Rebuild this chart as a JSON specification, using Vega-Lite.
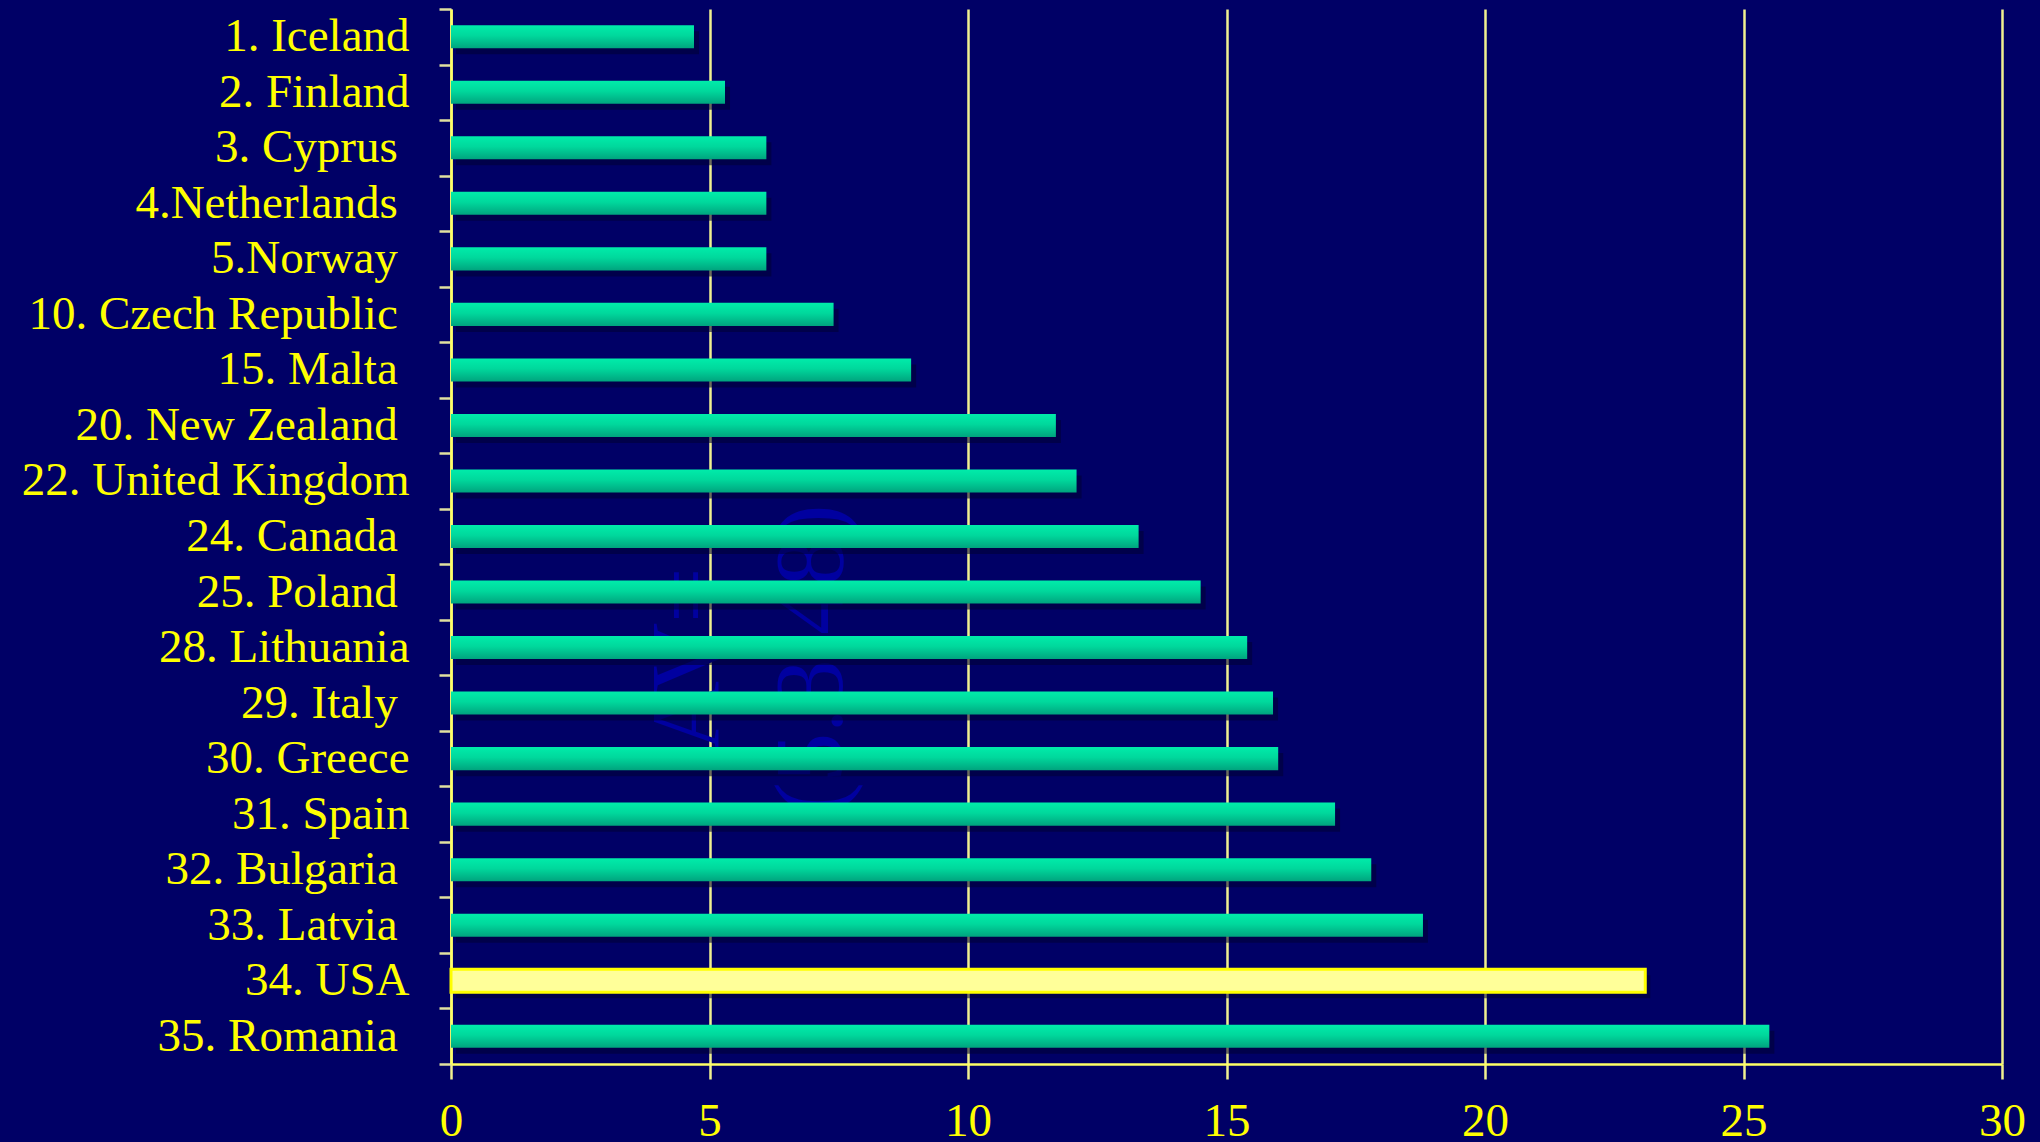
{
  "$schema": "https://vega.github.io/schema/vega-lite/v6.json",
  "width": 1551,
  "height": 1055,
  "autosize": "none",
  "padding": {"left": 451, "top": 9, "right": 38, "bottom": 78},
  "background": "#000066",
  "config": {
    "view": {"stroke": null},
    "font": "Liberation Serif"
  },
  "datasets": {
    "rates": [
      {"country": "1. Iceland", "rate": 4.7},
      {"country": "2. Finland", "rate": 5.3},
      {"country": "3. Cyprus\u00a0\u200b", "rate": 6.1},
      {"country": "4.Netherlands\u00a0\u200b", "rate": 6.1},
      {"country": "5.Norway\u00a0\u200b", "rate": 6.1},
      {"country": "10. Czech Republic\u00a0\u200b", "rate": 7.4},
      {"country": "15. Malta\u00a0\u200b", "rate": 8.9},
      {"country": "20. New Zealand\u00a0\u200b", "rate": 11.7},
      {"country": "22. United Kingdom", "rate": 12.1},
      {"country": "24. Canada\u00a0\u200b", "rate": 13.3},
      {"country": "25. Poland\u00a0\u200b", "rate": 14.5},
      {"country": "28. Lithuania", "rate": 15.4},
      {"country": "29. Italy\u00a0\u200b", "rate": 15.9},
      {"country": "30. Greece", "rate": 16.0},
      {"country": "31. Spain", "rate": 17.1},
      {"country": "32. Bulgaria\u00a0\u200b", "rate": 17.8},
      {"country": "33. Latvia\u00a0\u200b", "rate": 18.8},
      {"country": "34. USA", "rate": 23.1},
      {"country": "35. Romania\u00a0\u200b", "rate": 25.5}
    ],
    "notes": [
      {"text": "AV=", "at": 4.6, "row": "28. Lithuania"},
      {"text": "(5.3.48)", "at": 7.0, "row": "28. Lithuania"}
    ]
  },
  "encoding": {
    "y": {
      "field": "country",
      "type": "nominal",
      "sort": null,
      "title": null,
      "scale": {
        "domain": [
          "1. Iceland", "2. Finland", "3. Cyprus\u00a0\u200b", "4.Netherlands\u00a0\u200b",
          "5.Norway\u00a0\u200b", "10. Czech Republic\u00a0\u200b", "15. Malta\u00a0\u200b",
          "20. New Zealand\u00a0\u200b", "22. United Kingdom", "24. Canada\u00a0\u200b",
          "25. Poland\u00a0\u200b", "28. Lithuania", "29. Italy\u00a0\u200b", "30. Greece",
          "31. Spain", "32. Bulgaria\u00a0\u200b", "33. Latvia\u00a0\u200b", "34. USA",
          "35. Romania\u00a0\u200b"
        ],
        "paddingInner": 0,
        "paddingOuter": 0
      },
      "axis": {
        "domainColor": "#FFFF66",
        "domainWidth": 2.5,
        "tickBand": "extent",
        "tickColor": "#E0E0A0",
        "tickWidth": 2.5,
        "tickSize": 12,
        "labelColor": "#FFFF00",
        "labelFont": "Liberation Serif",
        "labelFontSize": 47,
        "labelPadding": 30,
        "labelBaseline": "middle",
        "labelLimit": 600
      }
    }
  },
  "layer": [
    {
      "data": {"name": "notes"},
      "mark": {
        "type": "text",
        "angle": 270,
        "align": "center",
        "baseline": "middle",
        "font": "Liberation Serif",
        "fontSize": 98,
        "color": "#0000A0",
        "dx": -12
      },
      "encoding": {
        "x": {"field": "at", "type": "quantitative"},
        "y": {"field": "row", "type": "nominal"},
        "text": {"field": "text"}
      }
    },
    {
      "data": {"name": "rates"},
      "mark": {"type": "bar", "height": {"band": 0.415}, "color": "#000033", "opacity": 0.55, "xOffset": 5, "yOffset": 6},
      "encoding": {
        "x": {"field": "rate", "type": "quantitative"}
      }
    },
    {
      "data": {"name": "rates"},
      "transform": [{"filter": "datum.country !== '34. USA'"}],
      "mark": {
        "type": "bar",
        "height": {"band": 0.415},
        "color": {
          "gradient": "linear",
          "x1": 0, "y1": 0, "x2": 0, "y2": 1,
          "stops": [
            {"offset": 0, "color": "#00ECAA"},
            {"offset": 0.45, "color": "#00D89C"},
            {"offset": 1, "color": "#00A47E"}
          ]
        }
      },
      "encoding": {
        "x": {
          "field": "rate",
          "type": "quantitative",
          "title": null,
          "scale": {"domain": [0, 30], "nice": false},
          "axis": {
            "values": [0, 5, 10, 15, 20, 25, 30],
            "grid": true,
            "gridColor": "#F0F090",
            "gridWidth": 2.5,
            "domainColor": "#FFFF66",
            "domainWidth": 2.5,
            "tickColor": "#F0F090",
            "tickWidth": 2.5,
            "tickSize": 15,
            "labelColor": "#FFFF00",
            "labelFont": "Liberation Serif",
            "labelFontSize": 47,
            "labelBaseline": "alphabetic",
            "labelPadding": 56,
            "labelFlush": false
          }
        }
      }
    },
    {
      "data": {"name": "rates"},
      "transform": [{"filter": "datum.country === '34. USA'"}],
      "mark": {"type": "bar", "height": {"band": 0.415}, "fill": "#FFFF99", "stroke": "#FFFF00", "strokeWidth": 3},
      "encoding": {
        "x": {"field": "rate", "type": "quantitative"}
      }
    }
  ]
}
